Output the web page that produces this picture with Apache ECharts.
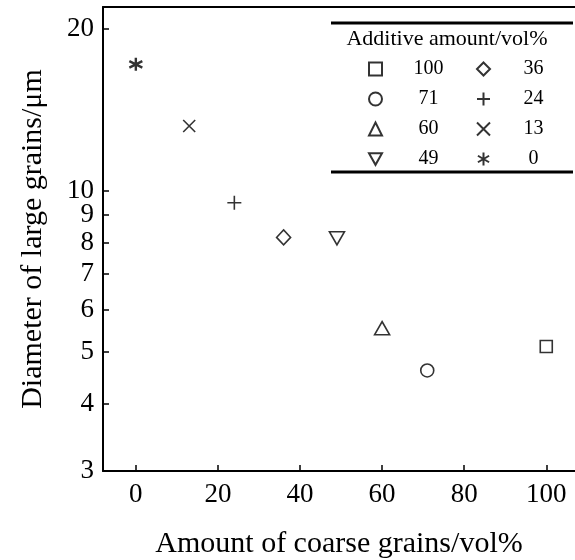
<!DOCTYPE html>
<html>
<head>
<meta charset="utf-8">
<script src="https://cdn.jsdelivr.net/npm/echarts@6/dist/echarts.min.js"></script>
<style>
html, body { margin: 0; padding: 0; background: #fff; }
#main { width: 575px; height: 560px; }
</style>
</head>
<body>
<div id="main"></div>
<script>
// 数据
var additive = [100, 71, 60, 49, 36, 24, 13, 0];
var diameters = [5.12, 4.62, 5.54, 8.15, 8.18, 9.49, 13.2, 17.2];
var legendLeftCol = ['100', '71', '60', '49'];
var legendRightCol = ['36', '24', '13', '0'];
var xTicks = [0, 20, 40, 60, 80, 100];
var yTicks = [3, 4, 5, 6, 7, 8, 9, 10, 20];

// 符号样式
var marks = [
	{ symbol: 'rect', size: 12 },
	{ symbol: 'circle', size: 13 },
	{ symbol: 'triangle', size: [15, 13] },
	{ symbol: 'path://M0,0L10,0L5,9Z', size: [15, 13] },
	{ symbol: 'diamond', size: [14, 15] },
	{ symbol: 'path://M5,0L5,10M0,5L10,5', size: 14 },
	{ symbol: 'path://M0,0L10,10M10,0L0,10', size: 12 },
	{ symbol: 'path://M5,0L5,10M0.7,2.5L9.3,7.5M9.3,2.5L0.7,7.5', size: 13 }
];

var font = 'Liberation Serif';

var series = additive.map(function (a, i) {
	return {
		name: String(a),
		type: 'scatter',
		xAxisIndex: 0,
		yAxisIndex: 0,
		symbol: marks[i].symbol,
		symbolSize: marks[i].size,
		data: [[a, diameters[i]]],
		itemStyle: {
			color: 'rgba(0,0,0,0)',
			borderColor: '#000',
			borderWidth: i === 7 ? 2.4 : 1.6
		}
	};
});

// 图例，两列
function makeLegend(names, left, textW) {
	return {
		data: names,
		orient: 'vertical',
		left: left,
		top: 59,
		padding: 0,
		itemWidth: 13,
		itemHeight: 13,
		itemGap: 10,
		formatter: function (name) { return '{a|' + name + '}'; },
		textStyle: {
			fontFamily: font,
			fontSize: 20,
			color: '#000',
			rich: {
				a: { width: textW, align: 'center', fontFamily: font, fontSize: 20 }
			}
		}
	};
}

var myChart = echarts.init(document.getElementById('main'));
var option = {
	animation: false,
	backgroundColor: '#fff',
	grid: {
		left: 103,
		right: 0,
		top: 7,
		bottom: 89,
		outerBoundsMode: 'none'
	},
	title: {
		text: 'Additive amount/vol%',
		left: 447,
		textAlign: 'center',
		top: 28,
		padding: 0,
		textStyle: { fontFamily: font, fontSize: 22, fontWeight: 'normal', color: '#000' }
	},
	legend: [
		makeLegend(legendLeftCol, 368, 83),
		makeLegend(legendRightCol, 476, 77)
	],
	graphic: [
		{ type: 'line', shape: { x1: 331, y1: 23, x2: 573, y2: 23 }, style: { stroke: '#000', lineWidth: 3 } },
		{ type: 'line', shape: { x1: 331, y1: 172, x2: 573, y2: 172 }, style: { stroke: '#000', lineWidth: 3 } }
	],
	xAxis: [
		{
			type: 'value',
			min: -8,
			max: 107,
			position: 'bottom',
			name: 'Amount of coarse grains/vol%',
			nameLocation: 'middle',
			nameGap: 58,
			nameTextStyle: { fontFamily: font, fontSize: 30, color: '#000' },
			axisLine: { onZero: false, lineStyle: { color: '#000', width: 2 } },
			axisTick: { inside: true, length: 6, customValues: xTicks, lineStyle: { color: '#000', width: 1.5 } },
			axisLabel: { customValues: xTicks, margin: 10, fontFamily: font, fontSize: 27, color: '#000' },
			splitLine: { show: false }
		},
		{
			type: 'value',
			min: -8,
			max: 107,
			position: 'top',
			axisLine: { onZero: false, lineStyle: { color: '#000', width: 2 } },
			axisTick: { show: false },
			axisLabel: { show: false },
			splitLine: { show: false }
		}
	],
	yAxis: [
		{
			// 对数轴，用来放数据
			type: 'log',
			logBase: 10,
			min: 3,
			max: 22,
			position: 'left',
			show: false
		},
		{
			// 只画刻度和文字
			type: 'value',
			min: Math.log10(3),
			max: Math.log10(22),
			position: 'left',
			name: 'Diameter of large grains/μm',
			nameLocation: 'middle',
			nameGap: 55,
			nameTextStyle: { fontFamily: font, fontSize: 30, color: '#000' },
			axisLine: { show: true, onZero: false, lineStyle: { color: '#000', width: 2 } },
			axisTick: { inside: true, length: 6, customValues: yTicks.map(Math.log10), lineStyle: { color: '#000', width: 1.5 } },
			axisLabel: {
				customValues: yTicks.map(Math.log10),
				margin: 9,
				fontFamily: font,
				fontSize: 27,
				color: '#000',
				formatter: function (v) { return String(Math.round(Math.pow(10, v))); }
			},
			splitLine: { show: false }
		}
	],
	series: series
};
myChart.setOption(option);
</script>
</body>
</html>
